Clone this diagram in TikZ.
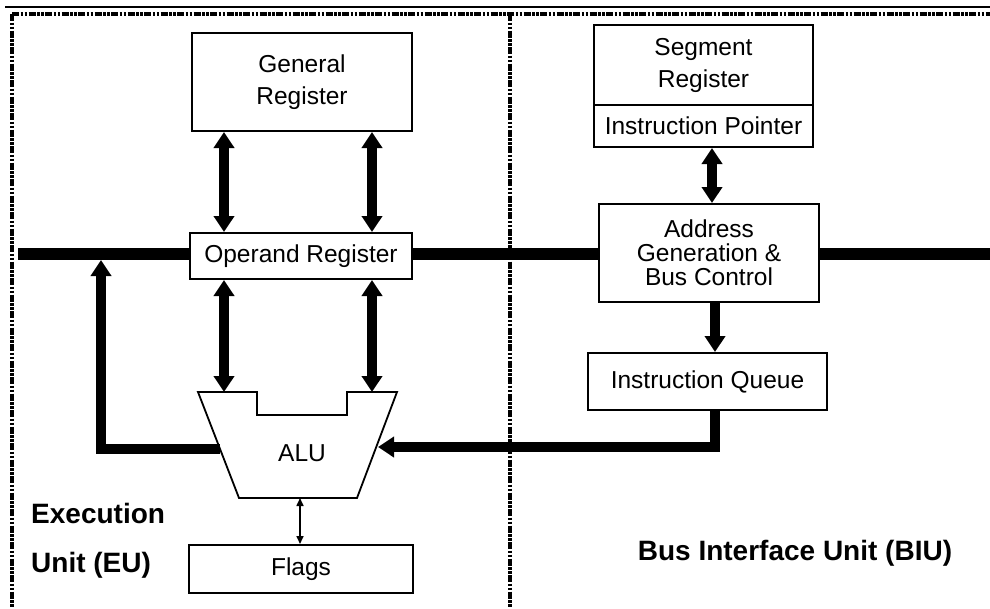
\documentclass[tikz,border=0pt]{standalone}
\usepackage{fontspec}
\setmainfont{Liberation Sans}
\usetikzlibrary{arrows.meta}
\newcommand{\regfont}{\fontsize{24.5}{32}\selectfont}
\newcommand{\tightfont}{\fontsize{24.5}{24}\selectfont}
\newcommand{\unitfont}{\fontsize{28}{34}\selectfont\bfseries}
\begin{document}
\begin{tikzpicture}[x=1pt,y=-1pt,
  box/.style={draw, line width=2pt, inner sep=0pt, align=center, font=\regfont},
  frameline/.style={line width=4pt, dash pattern=on 7pt off 1.5pt on 2.5pt off 1.5pt on 2.5pt off 1.5pt},
  busline/.style={line width=12pt},
  flowarrow/.style={line width=10pt, line join=miter, -{Triangle[width=20pt,length=16pt]}},
  datarrow/.style={line width=10pt, {Triangle[width=20pt,length=16pt]}-{Triangle[width=20pt,length=16pt]}},
  thinarrow/.style={line width=1.6pt, {Triangle[width=7pt,length=8pt]}-{Triangle[width=7pt,length=8pt]}},
  unitlabel/.style={font=\unitfont, inner sep=0pt}]
\useasboundingbox (0,0) rectangle (990,608);

% page frame and unit separators
\draw[line width=1.2pt] (5,7) -- (990,7);
\draw[frameline] (12,14) -- (990,14);
\draw[frameline] (12,14) -- (12,608);
\draw[frameline] (510,14) -- (510,608);

% execution unit blocks
\node[box, minimum width=220pt, minimum height=98pt] (gr) at (302,82) {General\\Register};
\node[box, minimum width=222pt, minimum height=46pt] (opr) at (301,256) {Operand Register};
\node[box, minimum width=224pt, minimum height=48pt] (flags) at (301,569) {Flags};

% ALU outline with notch
\draw[line width=1.8pt, line join=miter] (198,392) -- (257,392) -- (257,415) -- (347,415)
  -- (347,392) -- (397,392) -- (357,498) -- (239,498) -- cycle;
\node[font=\regfont, inner sep=0pt] (alu) at (302,453) {ALU};
\coordinate (aluInL) at (224,392);
\coordinate (aluInR) at (372,392);
\coordinate (aluOut) at (219,449);
\coordinate (aluIQ) at (378,447);
\coordinate (aluBot) at (300,498);
\coordinate (fbTip) at (101,260);

% bus interface unit blocks
\node[box, minimum width=219pt, minimum height=80pt] (seg) at (703.5,65) {Segment\\Register};
\node[box, minimum width=219pt, minimum height=42pt] (ip) at (703.5,126) {Instruction Pointer};
\node[box, font=\tightfont, minimum width=220pt, minimum height=98pt] (addr) at (709,253) {Address\\Generation \&\\Bus Control};
\node[box, minimum width=239pt, minimum height=57pt] (iq) at (707.5,381.5) {Instruction Queue};

% system bus
\coordinate (busL) at (18,254);
\coordinate (busR) at (990,254);
\draw[busline] (busL) -- (busL -| opr.west);
\draw[busline] (busL -| opr.east) -- (busL -| addr.west);
\draw[busline] (busL -| addr.east) -- (busR);

% data paths
\draw[datarrow] (gr.south -| aluInL) -- (opr.north -| aluInL);
\draw[datarrow] (gr.south -| aluInR) -- (opr.north -| aluInR);
\draw[datarrow] (opr.south -| aluInL) -- (aluInL);
\draw[datarrow] (opr.south -| aluInR) -- (aluInR);
\draw[thinarrow] (aluBot) -- (flags.north -| aluBot);
\draw[flowarrow, shorten <=-1pt] (aluOut) -| (fbTip);

\coordinate (ipX) at (712,0);
\coordinate (qX) at (715,0);
\draw[datarrow] (ip.south -| ipX) -- (addr.north -| ipX);
\draw[flowarrow] (addr.south -| qX) -- (iq.north -| qX);
\draw[flowarrow] (iq.south -| qX) |- (aluIQ);

% unit captions
\node[unitlabel, anchor=west] (eu1) at (31,513) {Execution};
\node[unitlabel, anchor=west] (eu2) at (31,565) {Unit (EU)};
\node[unitlabel] (biu) at (795,553) {Bus Interface Unit (BIU)};
\end{tikzpicture}
\end{document}
